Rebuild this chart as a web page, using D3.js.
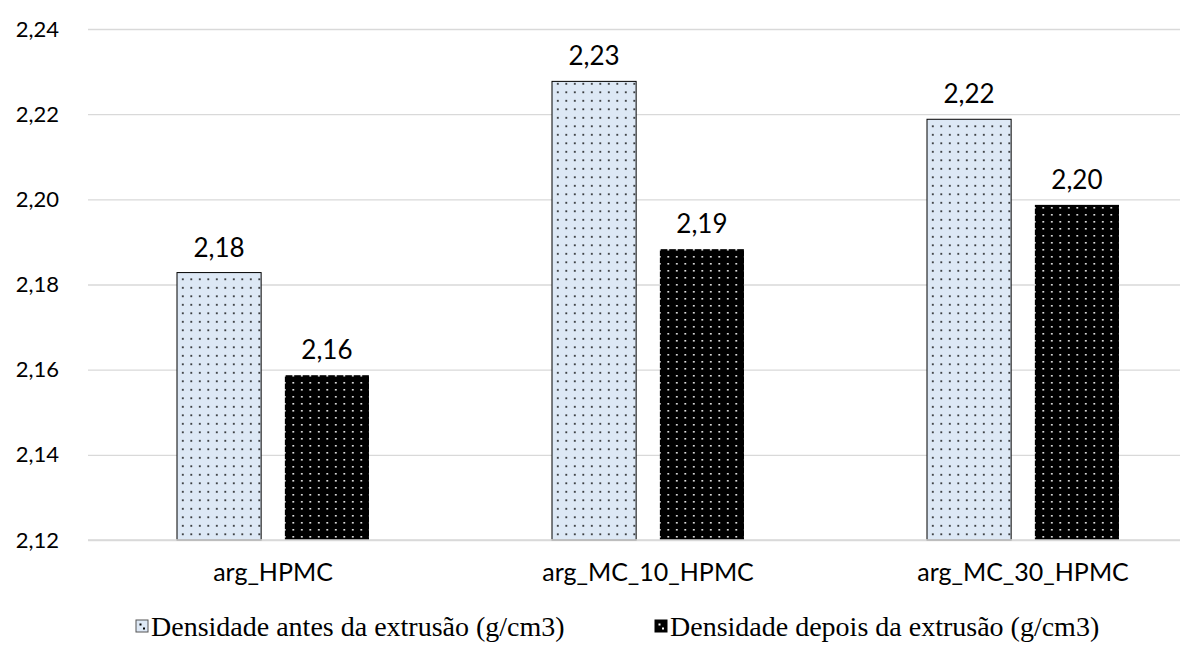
<!DOCTYPE html>
<html>
<head>
<meta charset="utf-8">
<script src="https://cdn.jsdelivr.net/npm/d3@7"></script>
<style>
  body { margin: 0; background: #fff; }
  svg { display: block; }
</style>
</head>
<body>
<div class="chart"></div>
<script>
// chart data
var categories = ["arg_HPMC", "arg_MC_10_HPMC", "arg_MC_30_HPMC"];
var seriesNames = ["Densidade antes da extrusão (g/cm3)", "Densidade depois da extrusão (g/cm3)"];
var antes = [2.1828, 2.2277, 2.2188];
var depois = [2.1587, 2.1883, 2.1987];
var yTicks = [2.12, 2.14, 2.16, 2.18, 2.20, 2.22, 2.24];

var svgWidth = 1200;
var svgHeight = 646;
var margin = { top: 29, right: 20, bottom: 105, left: 88 };
var width = svgWidth - margin.left - margin.right;
var height = svgHeight - margin.top - margin.bottom - 1;

var svg = d3.select(".chart").append("svg")
  .attr("width", svgWidth)
  .attr("height", svgHeight);

// dotted fills
var defs = svg.append("defs");
var pLight = defs.append("pattern")
  .attr("id", "dotsLight")
  .attr("patternUnits", "userSpaceOnUse")
  .attr("width", 8.5).attr("height", 8.5);
pLight.append("rect").attr("width", 8.5).attr("height", 8.5).attr("fill", "#dde8f5");
pLight.append("rect").attr("x", 3).attr("y", 3).attr("width", 1.6).attr("height", 1.6).attr("fill", "#000");

var pDark = defs.append("pattern")
  .attr("id", "dotsDark")
  .attr("patternUnits", "userSpaceOnUse")
  .attr("width", 8.5).attr("height", 7);
pDark.append("rect").attr("width", 8.5).attr("height", 7).attr("fill", "#000");
pDark.append("rect").attr("x", 3).attr("y", 3).attr("width", 1.6).attr("height", 1.6).attr("fill", "#fff");

var chartGroup = svg.append("g")
  .attr("transform", `translate(${margin.left}, ${margin.top})`);

var yScale = d3.scaleLinear()
  .domain([2.12, 2.24])
  .range([height, 0]);

// category bands are a bit wider than the gridded area
var x0 = d3.scaleBand()
  .domain(categories)
  .range([-2.5, 1122.5])
  .paddingInner(0)
  .paddingOuter(0);

var x1 = d3.scaleBand()
  .domain([0, 1])
  .range([x0.bandwidth() / 2 - 96, x0.bandwidth() / 2 + 96])
  .paddingInner(0.22)
  .paddingOuter(0);

var fmt = function (v) { return v.toFixed(2).replace(".", ","); };
var sans = "Lato, 'Open Sans', sans-serif";

// gridlines
var leftAxis = d3.axisLeft(yScale)
  .tickValues(yTicks)
  .tickSize(-width)
  .tickFormat(fmt);

var yAxis = chartGroup.append("g").call(leftAxis);
yAxis.select(".domain").remove();
yAxis.selectAll("line").attr("stroke", "#d9d9d9").attr("stroke-width", 1.3);
yAxis.selectAll("text")
  .attr("x", -29)
  .style("font-family", sans)
  .style("font-size", "22px")
  .attr("fill", "#000");

// bars
var data = categories.map(function (c, i) {
  return { cat: c, vals: [antes[i], depois[i]] };
});

var groups = chartGroup.selectAll(".grp")
  .data(data)
  .enter()
  .append("g")
  .attr("transform", d => `translate(${x0(d.cat)}, 0)`);

groups.selectAll("rect")
  .data(d => d.vals.map((v, k) => ({ k: k, v: v })))
  .enter()
  .append("rect")
  .attr("x", d => x1(d.k))
  .attr("width", x1.bandwidth())
  .attr("y", d => yScale(d.v))
  .attr("height", d => height - yScale(d.v))
  .attr("fill", d => d.k === 0 ? "url(#dotsLight)" : "url(#dotsDark)")
  .attr("stroke", d => d.k === 0 ? "#000" : "none")
  .attr("stroke-width", 1);

groups.selectAll(".val")
  .data(d => d.vals.map((v, k) => ({ k: k, v: v })))
  .enter()
  .append("text")
  .attr("x", d => x1(d.k) + x1.bandwidth() / 2)
  .attr("y", d => yScale(d.v) - 16)
  .attr("text-anchor", "middle")
  .style("font-family", sans)
  .style("font-size", "26px")
  .text(d => fmt(d.v));

// baseline
chartGroup.append("line")
  .attr("x1", 0).attr("x2", width)
  .attr("y1", height).attr("y2", height)
  .attr("stroke", "#d9d9d9").attr("stroke-width", 1.5);

// category labels
var bottomAxis = d3.axisBottom(x0).tickSize(0).tickPadding(23);
var xAxis = chartGroup.append("g")
  .attr("transform", `translate(0, ${height})`)
  .call(bottomAxis);
xAxis.select(".domain").remove();
xAxis.selectAll("text")
  .style("font-family", sans)
  .style("font-size", "25px")
  .attr("fill", "#000");

// legend
var legendX = [136, 655];
var legend = svg.append("g");
seriesNames.forEach(function (name, i) {
  var g = legend.append("g").attr("transform", `translate(${legendX[i]}, 622)`);
  g.append("rect")
    .attr("x", 0).attr("y", -2)
    .attr("width", 12).attr("height", 12)
    .attr("fill", i === 0 ? "#dde8f5" : "#000")
    .attr("stroke", i === 0 ? "#555" : "#000")
    .attr("stroke-width", 1);
  g.append("rect")
    .attr("x", 3.5).attr("y", 1.5)
    .attr("width", 2).attr("height", 2)
    .attr("fill", i === 0 ? "#000" : "#fff");
  g.append("rect")
    .attr("x", 7).attr("y", 5.5)
    .attr("width", 2).attr("height", 2)
    .attr("fill", i === 0 ? "#000" : "#fff");
  g.append("text")
    .attr("x", 15)
    .attr("y", 14)
    .style("font-family", "'Liberation Serif', 'Times New Roman', serif")
    .style("font-size", "28px")
    .text(name);
});
</script>
</body>
</html>
